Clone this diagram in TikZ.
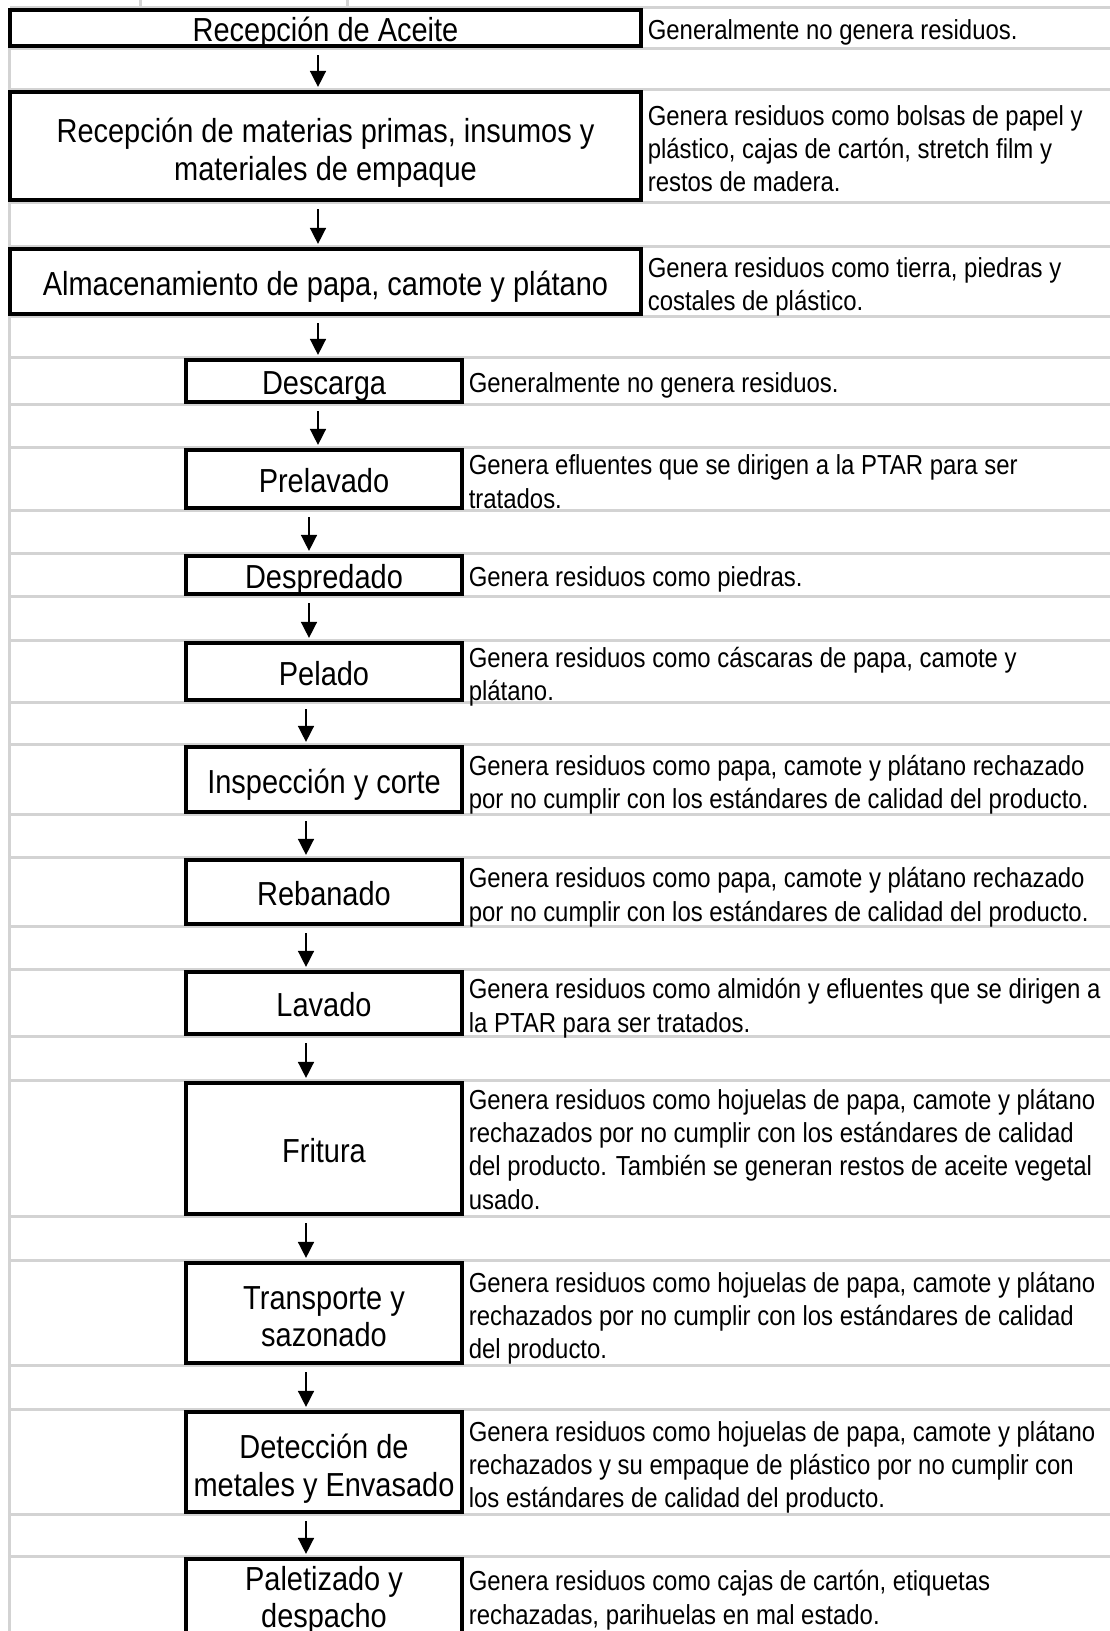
\documentclass[tikz,border=0pt]{standalone}
\usepackage{fontspec}
\setmainfont[FakeStretch=0.87]{Liberation Sans}
\usetikzlibrary{arrows.meta}
\definecolor{gridgray}{RGB}{211,211,211}
\pgfdeclarelayer{bg}
\pgfsetlayers{bg,main}
\begin{document}
\begin{tikzpicture}[x=1pt,y=-1pt,
  stage/.style={draw=black,line width=4.2pt,fill=white,inner sep=0pt},
  wide/.style={stage,minimum width=631pt},
  narrow/.style={stage,minimum width=276pt},
  stagename/.style={inner sep=0pt,align=center,yshift=-6pt,
    font=\fontsize{33.3}{37.5}\selectfont,
    execute at begin node=\strut,execute at end node=\strut},
  note/.style={anchor=west,inner sep=0pt,align=left,yshift=-4.5pt,
    font=\fontsize{27.5}{33.3}\selectfont,
    execute at begin node=\strut,execute at end node=\strut},
  multi/.style={yshift=-3pt},
  gridline/.style={draw=gridgray,line width=3pt},
  flow/.style={-{Triangle[width=16pt,length=16pt]},line width=1.5pt,
    shorten <=7pt,shorten >=3pt}
]
\useasboundingbox (0,0) rectangle (1110,1631);
\clip (0,0) rectangle (1110,1631);

% columns used by the grid and the arrows
\coordinate (L) at (9.5,0);
\coordinate (R) at (1110,0);
\coordinate (a1) at (318,0);
\coordinate (a2) at (309,0);
\coordinate (a3) at (306,0);

% process stages
\node[wide,minimum height=36pt]    (b1)  at (325.5,28)    {};
\node[wide,minimum height=108pt]   (b2)  at (325.5,146)   {};
\node[wide,minimum height=65pt]    (b3)  at (325.5,281.5) {};
\node[narrow,minimum height=42pt]  (b4)  at (324,381)     {};
\node[narrow,minimum height=58pt]  (b5)  at (324,479)     {};
\node[narrow,minimum height=38pt]  (b6)  at (324,575)     {};
\node[narrow,minimum height=57pt]  (b7)  at (324,671.5)   {};
\node[narrow,minimum height=65pt]  (b8)  at (324,779.5)   {};
\node[narrow,minimum height=64pt]  (b9)  at (324,892)     {};
\node[narrow,minimum height=62pt]  (b10) at (324,1003)    {};
\node[narrow,minimum height=131pt] (b11) at (324,1148.5)  {};
\node[narrow,minimum height=100pt] (b12) at (324,1313)    {};
\node[narrow,minimum height=100pt] (b13) at (324,1462)    {};
\node[narrow,minimum height=78pt]  (b14) at (324,1598)    {};

% stage names
\node[stagename]       (t1)  at (b1.center)  {Recepción de Aceite};
\node[stagename,multi] (t2)  at (b2.center)  {Recepción de materias primas, insumos y\\materiales de empaque};
\node[stagename]       (t3)  at (b3.center)  {Almacenamiento de papa, camote y plátano};
\node[stagename]       (t4)  at (b4.center)  {Descarga};
\node[stagename]       (t5)  at (b5.center)  {Prelavado};
\node[stagename]       (t6)  at (b6.center)  {Despredado};
\node[stagename]       (t7)  at (b7.center)  {Pelado};
\node[stagename]       (t8)  at (b8.center)  {Inspección y corte};
\node[stagename]       (t9)  at (b9.center)  {Rebanado};
\node[stagename]       (t10) at (b10.center) {Lavado};
\node[stagename]       (t11) at (b11.center) {Fritura};
\node[stagename,multi] (t12) at (b12.center) {Transporte y\\sazonado};
\node[stagename,multi] (t13) at (b13.center) {Detección de\\metales y Envasado};
\node[stagename,yshift=1.5pt] (t14) at (b14.center) {Paletizado y\\despacho};

% waste generated at each stage
\node[note]       (c1)  at ([xshift=4.5pt]b1.east)  {Generalmente no genera residuos.};
\node[note,multi] (c2)  at ([xshift=4.5pt]b2.east)  {Genera residuos como bolsas de papel y\\plástico, cajas de cartón, stretch film y\\restos de madera.};
\node[note,multi] (c3)  at ([xshift=4.5pt]b3.east)  {Genera residuos como tierra, piedras y\\costales de plástico.};
\node[note]       (c4)  at ([xshift=4.5pt]b4.east)  {Generalmente no genera residuos.};
\node[note,multi] (c5)  at ([xshift=4.5pt]b5.east)  {Genera efluentes que se dirigen a la PTAR para ser\\tratados.};
\node[note]       (c6)  at ([xshift=4.5pt]b6.east)  {Genera residuos como piedras.};
\node[note,multi] (c7)  at ([xshift=4.5pt]b7.east)  {Genera residuos como cáscaras de papa, camote y\\plátano.};
\node[note,multi] (c8)  at ([xshift=4.5pt]b8.east)  {Genera residuos como papa, camote y plátano rechazado\\por no cumplir con los estándares de calidad del producto.};
\node[note,multi] (c9)  at ([xshift=4.5pt]b9.east)  {Genera residuos como papa, camote y plátano rechazado\\por no cumplir con los estándares de calidad del producto.};
\node[note,multi] (c10) at ([xshift=4.5pt]b10.east) {Genera residuos como almidón y efluentes que se dirigen a\\la PTAR para ser tratados.};
\node[note,multi,yshift=2pt] (c11) at ([xshift=4.5pt]b11.east) {Genera residuos como hojuelas de papa, camote y plátano\\rechazados por no cumplir con los estándares de calidad\\del producto. También se generan restos de aceite vegetal\\usado.};
\node[note,multi] (c12) at ([xshift=4.5pt]b12.east) {Genera residuos como hojuelas de papa, camote y plátano\\rechazados por no cumplir con los estándares de calidad\\del producto.};
\node[note,multi] (c13) at ([xshift=4.5pt]b13.east) {Genera residuos como hojuelas de papa, camote y plátano\\rechazados y su empaque de plástico por no cumplir con\\los estándares de calidad del producto.};
\node[note]       (c14) at ([xshift=4.5pt]b14.east) {Genera residuos como cajas de cartón, etiquetas\\rechazadas, parihuelas en mal estado.};

% sheet grid behind the stages
\begin{pgfonlayer}{bg}
  \draw[gridline] (9.5,8) -- (9.5,1631);
  \draw[gridline] (140,0) -- (140,8);
  \draw[gridline] (347,0) -- (347,8);
  \foreach \b in {b1,b2,b3,b4,b5,b6,b7,b8,b9,b10,b11,b12,b13,b14}{
    \draw[gridline] (\b.north -| L) -- (\b.north -| R);
    \draw[gridline] (\b.south -| L) -- (\b.south -| R);
  }
\end{pgfonlayer}

% flow between stages
\draw[flow] (b1.south -| a1)  -- (b2.north -| a1);
\draw[flow] (b2.south -| a1)  -- (b3.north -| a1);
\draw[flow] (b3.south -| a1)  -- (b4.north -| a1);
\draw[flow] (b4.south -| a1)  -- (b5.north -| a1);
\draw[flow] (b5.south -| a2)  -- (b6.north -| a2);
\draw[flow] (b6.south -| a2)  -- (b7.north -| a2);
\draw[flow] (b7.south -| a3)  -- (b8.north -| a3);
\draw[flow] (b8.south -| a3)  -- (b9.north -| a3);
\draw[flow] (b9.south -| a3)  -- (b10.north -| a3);
\draw[flow] (b10.south -| a3) -- (b11.north -| a3);
\draw[flow] (b11.south -| a3) -- (b12.north -| a3);
\draw[flow] (b12.south -| a3) -- (b13.north -| a3);
\draw[flow] (b13.south -| a3) -- (b14.north -| a3);
\end{tikzpicture}
\end{document}
